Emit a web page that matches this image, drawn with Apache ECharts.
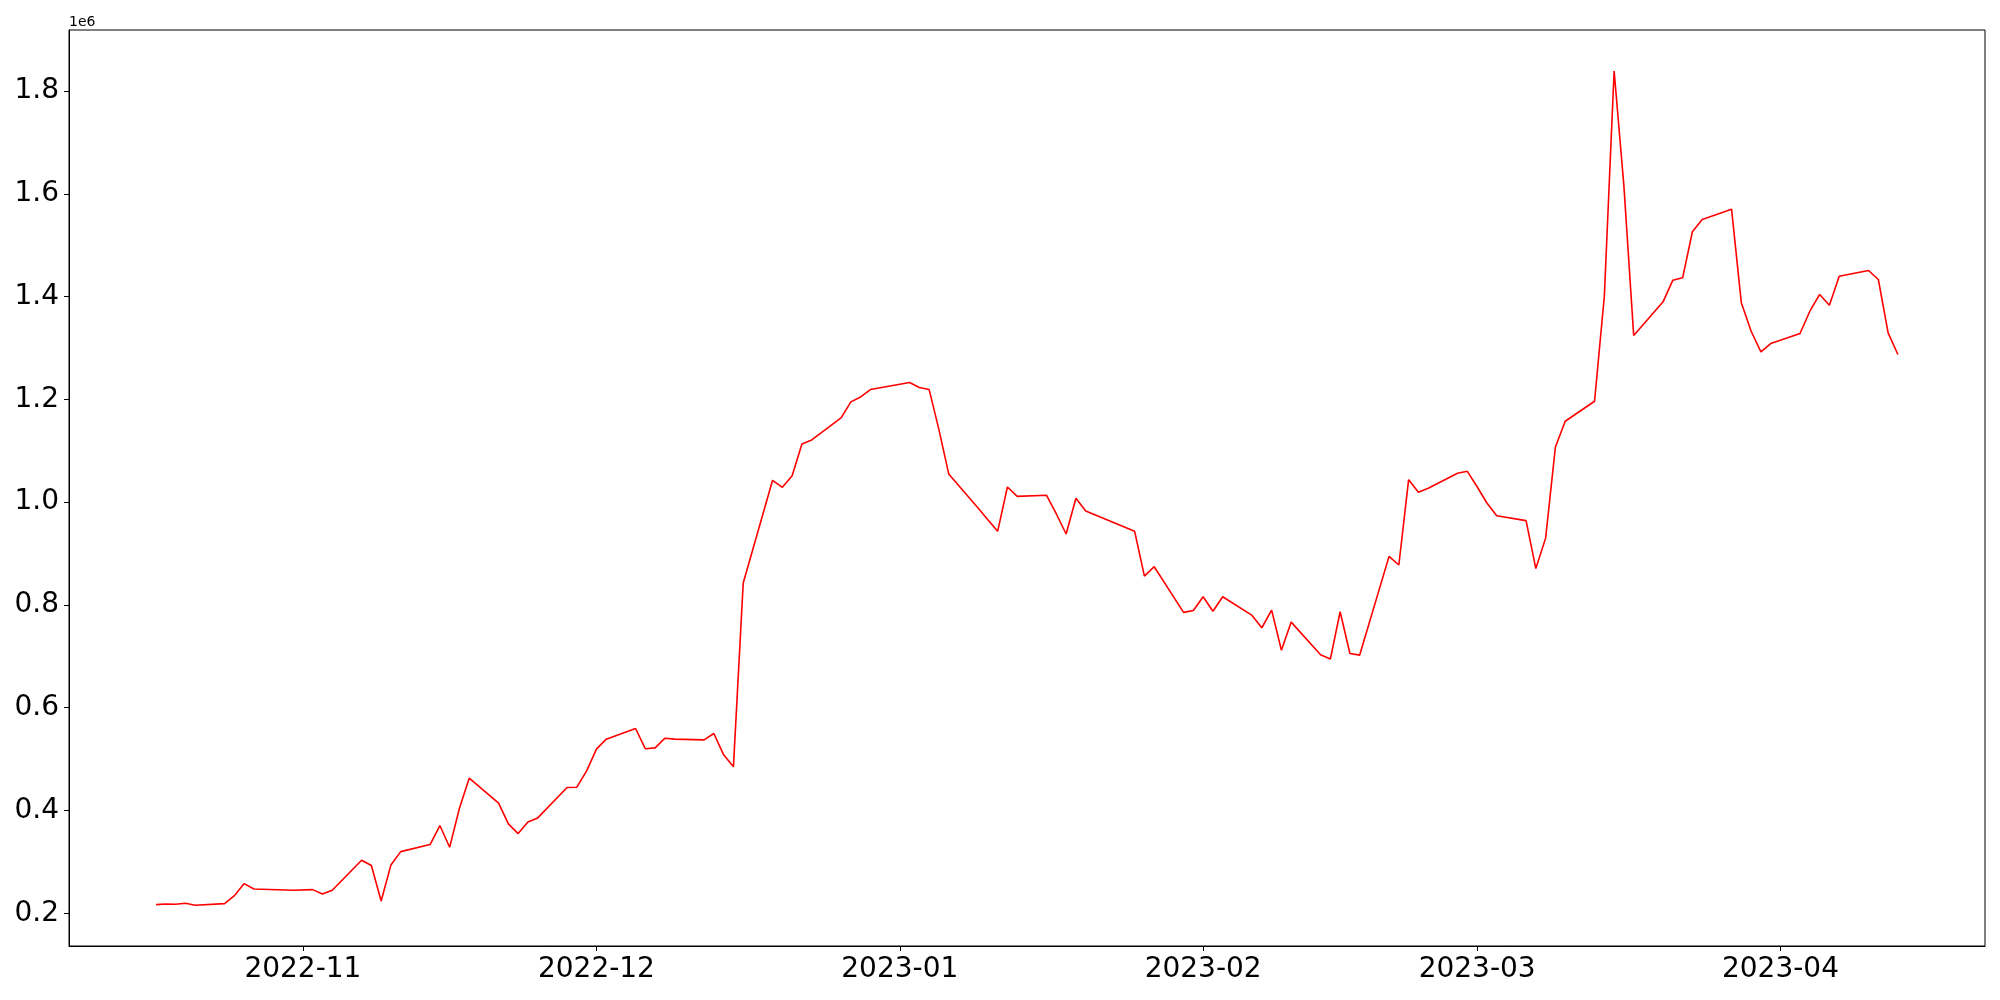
<!DOCTYPE html>
<html>
<head>
<meta charset="utf-8">
<script src="https://cdn.jsdelivr.net/npm/echarts@6.0.0/dist/echarts.min.js"></script>
<style>
html, body { margin: 0; padding: 0; background: #fff; }
#main { width: 2000px; height: 1000px; }
</style>
</head>
<body>
<div id="main"></div>
<script>
// trading days and closing values
var dates = [
    '2022-10-17', '2022-10-18', '2022-10-19', '2022-10-20', '2022-10-21', '2022-10-24', '2022-10-25', '2022-10-26',
    '2022-10-27', '2022-10-31', '2022-11-02', '2022-11-03', '2022-11-04', '2022-11-07', '2022-11-08', '2022-11-09',
    '2022-11-10', '2022-11-11', '2022-11-14', '2022-11-15', '2022-11-16', '2022-11-17', '2022-11-18', '2022-11-21',
    '2022-11-22', '2022-11-23', '2022-11-24', '2022-11-25', '2022-11-28', '2022-11-29', '2022-11-30', '2022-12-01',
    '2022-12-02', '2022-12-05', '2022-12-06', '2022-12-07', '2022-12-08', '2022-12-09', '2022-12-12', '2022-12-13',
    '2022-12-14', '2022-12-15', '2022-12-16', '2022-12-19', '2022-12-20', '2022-12-21', '2022-12-22', '2022-12-23',
    '2022-12-26', '2022-12-27', '2022-12-28', '2022-12-29', '2023-01-02', '2023-01-03', '2023-01-04', '2023-01-05',
    '2023-01-06', '2023-01-09', '2023-01-10', '2023-01-11', '2023-01-12', '2023-01-13', '2023-01-16', '2023-01-17',
    '2023-01-18', '2023-01-19', '2023-01-20', '2023-01-25', '2023-01-26', '2023-01-27', '2023-01-30', '2023-01-31',
    '2023-02-01', '2023-02-02', '2023-02-03', '2023-02-06', '2023-02-07', '2023-02-08', '2023-02-09', '2023-02-10',
    '2023-02-13', '2023-02-14', '2023-02-15', '2023-02-16', '2023-02-17', '2023-02-20', '2023-02-21', '2023-02-22',
    '2023-02-23', '2023-02-24', '2023-02-27', '2023-02-28', '2023-03-01', '2023-03-02', '2023-03-03', '2023-03-06',
    '2023-03-07', '2023-03-08', '2023-03-09', '2023-03-10', '2023-03-13', '2023-03-14', '2023-03-15', '2023-03-16',
    '2023-03-17', '2023-03-20', '2023-03-21', '2023-03-22', '2023-03-23', '2023-03-24', '2023-03-27', '2023-03-28',
    '2023-03-29', '2023-03-30', '2023-03-31', '2023-04-03', '2023-04-04', '2023-04-05', '2023-04-06', '2023-04-07',
    '2023-04-10', '2023-04-11', '2023-04-12', '2023-04-13'
];
var values = [
    216800, 218100, 217500, 219400, 215500, 218800, 234300, 257700,
    247300, 244700, 246000, 237600, 244700, 303200, 292800, 224000,
    294100, 320000, 333700, 370700, 328500, 404400, 462800, 414200,
    373900, 355100, 377800, 385600, 444700, 445300, 477100, 519500,
    538800, 559600, 520000, 521900, 540700, 538800, 537500, 549800,
    508300, 484900, 842600, 1042500, 1028900, 1051600, 1113300, 1121100,
    1163900, 1195100, 1204800, 1219100, 1232700, 1223000, 1219100, 1141200,
    1054900, 988700, 965900, 943200, 1029500, 1011300, 1013300, 977000,
    938000, 1007500, 982800, 943200, 856200, 874400, 785500, 789300,
    816000, 787700, 816000, 779600, 755600, 790000, 711800, 766600,
    703000, 694600, 786800, 705600, 702400, 894500, 877700, 1043800,
    1019100, 1026900, 1056100, 1060000, 1030000, 998400, 973700, 964000,
    870700, 930000, 1107500, 1157400, 1196300, 1400800, 1839000, 1615000,
    1324200, 1389800, 1432000, 1436600, 1526200, 1550100, 1570200, 1387900,
    1332600, 1292500, 1308700, 1328200, 1371600, 1404100, 1383200, 1439700,
    1450800, 1433300, 1329500, 1287300
];
var xTicks = ['2022-11-01', '2022-12-01', '2023-01-01', '2023-02-01', '2023-03-01', '2023-04-01'];
var yTicks = [200000, 400000, 600000, 800000, 1000000, 1200000, 1400000, 1600000, 1800000];

function toTime(s) {
    var p = s.split('-');
    return new Date(+p[0], +p[1] - 1, +p[2]).getTime();
}

var times = dates.map(toTime);
var xTickTimes = xTicks.map(toTime);

// matplotlib style 5% margins on the date axis; value range as measured on the reference
var tMin = times[0], tMax = times[times.length - 1];
var tPad = (tMax - tMin) * 0.05;
var yMin = 136300, yMax = 1918800;

var chartDom = document.getElementById('main');
var myChart = echarts.init(chartDom, null, { renderer: 'canvas' });
var font = 'DejaVu Sans';
var option = {
    animation: false,
    backgroundColor: '#fff',
    grid: {
        left: 69,
        right: 15,
        top: 30,
        bottom: 54,
        show: true,
        borderColor: '#000',
        borderWidth: 1
    },
    graphic: [{
        type: 'text',
        left: 69,
        top: 15,
        style: { text: '1e6', fontSize: 14, fontFamily: font, fill: '#000' }
    }],
    // dates kept as timestamps on a value axis so month ticks can be placed exactly
    xAxis: {
        type: 'value',
        min: tMin - tPad,
        max: tMax + tPad,
        splitLine: { show: false },
        axisLine: { show: true, lineStyle: { color: '#000', width: 1 } },
        axisTick: { show: true, customValues: xTickTimes, length: 5, lineStyle: { color: '#000' } },
        axisLabel: {
            customValues: xTickTimes,
            formatter: function (v) {
                var d = new Date(v);
                var m = d.getMonth() + 1;
                return d.getFullYear() + '-' + (m < 10 ? '0' + m : m);
            },
            fontSize: 28,
            fontFamily: font,
            color: '#000',
            margin: 10
        }
    },
    yAxis: {
        type: 'value',
        min: yMin,
        max: yMax,
        splitLine: { show: false },
        axisLine: { show: true, lineStyle: { color: '#000', width: 1 } },
        axisTick: { show: true, customValues: yTicks, length: 5, lineStyle: { color: '#000' } },
        axisLabel: {
            customValues: yTicks,
            formatter: function (v) { return (v / 1e6).toFixed(1); },
            fontSize: 28,
            fontFamily: font,
            color: '#000',
            margin: 10
        }
    },
    series: [{
        type: 'line',
        data: times.map(function (t, i) { return [t, values[i]]; }),
        showSymbol: false,
        lineStyle: { color: '#ff0000', width: 1.6 },
        itemStyle: { color: '#ff0000' }
    }]
};
myChart.setOption(option);
</script>
</body>
</html>
